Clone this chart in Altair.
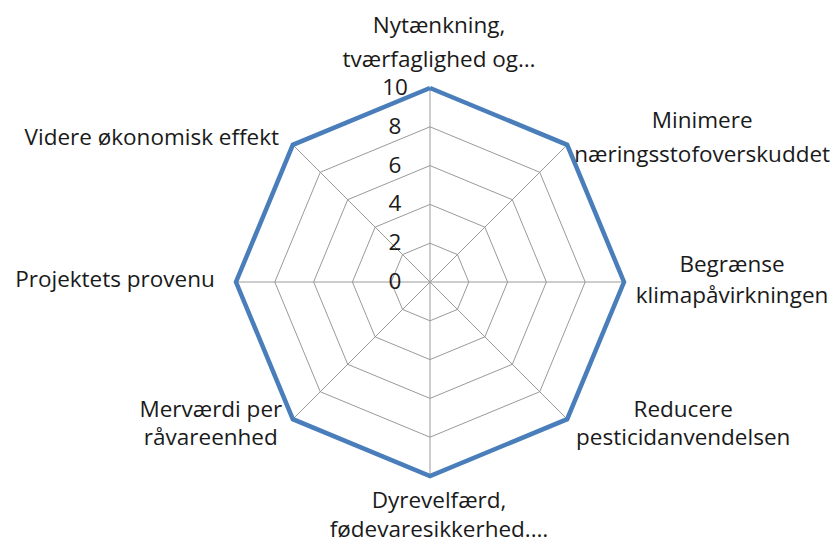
import altair as alt
import pandas as pd
import numpy as np

# ---- data ----
label_lines = [
    ["Nytænkning,", "tværfaglighed og…"],
    ["Minimere", "næringsstofoverskuddet"],
    ["Begrænse", "klimapåvirkningen"],
    ["Reducere", "pesticidanvendelsen"],
    ["Dyrevelfærd,", "fødevaresikkerhed.…"],
    ["Merværdi per", "råvareenhed"],
    ["Projektets provenu"],
    ["Videre økonomisk effekt"],
]
values = [10, 10, 10, 10, 10, 10, 10, 10]
ticks = [0, 2, 4, 6, 8, 10]

# ---- layout (pixels) ----
W, H = 823, 535
CX, CY = 430 - 8, 282 - 8          # centre inside plot area
S = 19.4                          # px per unit
XDOM = [-CX / S, (W - CX) / S]
YDOM = [-(H - CY) / S, CY / S]
# per-label: (dx from vertex, dy of first baseline from vertex, line gap)
label_layout = [
    (9, -55, 34),
    (135, -17, 34),
    (108, -10, 31),
    (116, -2, 28),
    (9, 32, 29),
    (-82, -2, 28),
    (-121, 5, 0),
    (-141, 0, 0),
]
FONT = "Open Sans"
FS = 22.5

n = len(values)
ang = [2 * np.pi * k / n for k in range(n)]
rmax = ticks[-1]

xs = alt.Scale(domain=XDOM, nice=False, zero=False)
ys = alt.Scale(domain=YDOM, nice=False, zero=False)

# grid polygons
grid_rows = []
for r in ticks[1:]:
    for k in range(n + 1):
        a = ang[k % n]
        grid_rows.append({"level": r, "k": k, "x": r * np.sin(a), "y": r * np.cos(a)})
grid_df = pd.DataFrame(grid_rows)

spoke_df = pd.DataFrame({
    "x": [0.0] * n, "y": [0.0] * n,
    "x2": [rmax * np.sin(a) for a in ang],
    "y2": [rmax * np.cos(a) for a in ang],
})

series_rows = []
for k in range(n + 1):
    v = values[k % n]
    a = ang[k % n]
    series_rows.append({"k": k, "x": v * np.sin(a), "y": v * np.cos(a)})
series_df = pd.DataFrame(series_rows)

tick_df = pd.DataFrame({"v": ticks, "x": [0.0] * len(ticks), "label": [str(t) for t in ticks]})

lab_rows = []
for k, lines in enumerate(label_lines):
    a = ang[k]
    vx = CX + rmax * S * np.sin(a)
    vy = CY - rmax * S * np.cos(a)
    dx, dy, gap = label_layout[k]
    for i, t in enumerate(lines):
        px = vx + dx
        py = vy + dy + i * gap
        lab_rows.append({"text": t, "x": (px - CX) / S, "y": (CY - py) / S})
lab_df = pd.DataFrame(lab_rows)

grid = alt.Chart(grid_df).mark_line(color="#9a9a9a", strokeWidth=1).encode(
    x=alt.X("x:Q", scale=xs, axis=None),
    y=alt.Y("y:Q", scale=ys, axis=None),
    detail="level:N",
    order="k:Q",
)
spokes = alt.Chart(spoke_df).mark_rule(color="#9a9a9a", strokeWidth=1).encode(
    x=alt.X("x:Q", scale=xs, axis=None),
    y=alt.Y("y:Q", scale=ys, axis=None),
    x2="x2:Q",
    y2="y2:Q",
)
series = alt.Chart(series_df).mark_line(color="#4A7EBB", strokeWidth=4.5, strokeJoin="miter").encode(
    x=alt.X("x:Q", scale=xs, axis=None),
    y=alt.Y("y:Q", scale=ys, axis=None),
    order="k:Q",
)
tick_text = alt.Chart(tick_df).mark_text(
    font=FONT, fontSize=FS, color="#1a1a1a", align="center", baseline="alphabetic", dx=-35, dy=7
).encode(
    x=alt.X("x:Q", scale=xs, axis=None),
    y=alt.Y("v:Q", scale=ys, axis=None),
    text="label:N",
)
cat_text = alt.Chart(lab_df).mark_text(
    font=FONT, fontSize=FS, color="#1a1a1a", align="center", baseline="alphabetic"
).encode(
    x=alt.X("x:Q", scale=xs, axis=None),
    y=alt.Y("y:Q", scale=ys, axis=None),
    text="text:N",
)

chart = alt.layer(grid, spokes, series, tick_text, cat_text).properties(
    width=W, height=H, padding=0, autosize=alt.AutoSizeParams(type="none")
).configure_view(stroke=None)

chart.save("out.html", embed_options={"renderer": "svg", "actions": False})
